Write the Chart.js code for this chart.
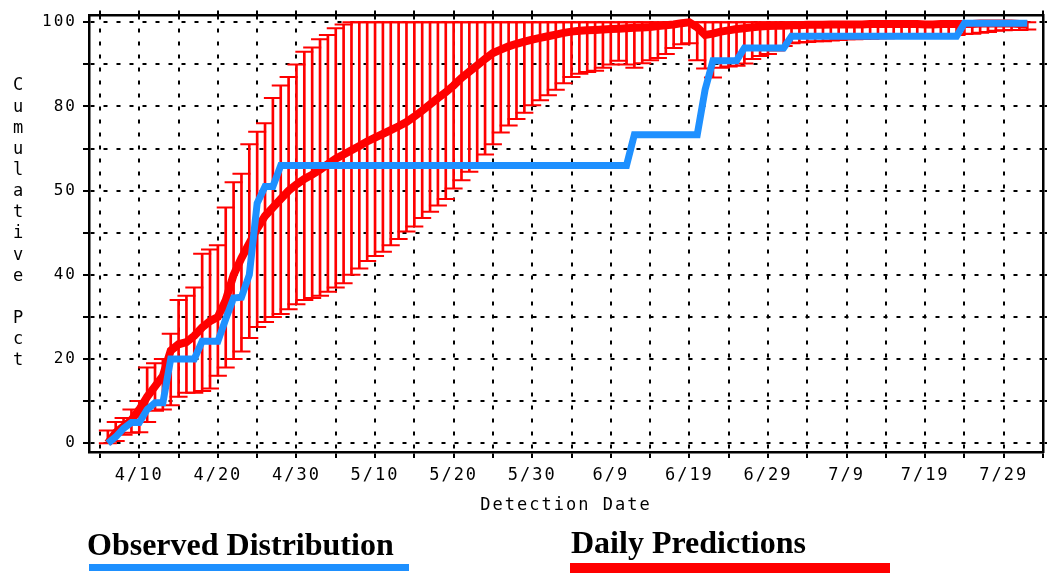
<!DOCTYPE html>
<html>
<head>
<meta charset="utf-8">
<script src="https://cdn.jsdelivr.net/npm/chart.js@4.4.1/dist/chart.umd.min.js"></script>
<style>
  html, body { margin: 0; padding: 0; background: #fff; }
  #wrap { position: relative; width: 1054px; height: 577px; overflow: hidden; }
  #c { position: absolute; left: 0; top: 0; }
  .lg { position: absolute; font-family: "Liberation Serif", "Times New Roman", serif; font-weight: bold; font-size: 32px; line-height: 32px; color: #000; white-space: nowrap; }
  .bar { position: absolute; }
</style>
</head>
<body>
<div id="wrap">
  <canvas id="c" width="1054" height="577"></canvas>
  <div class="lg" style="left:87px; top:528px;">Observed Distribution</div>
  <div class="bar" style="left:89px; top:564px; width:320px; height:7px; background:#1e90ff;"></div>
  <div class="lg" style="left:571px; top:526px;">Daily Predictions</div>
  <div class="bar" style="left:570px; top:563px; width:320px; height:10px; background:#ff0000;"></div>
</div>
<script>
// ---------------- data ----------------
const predDates = [
  '4/6','4/7','4/8','4/9','4/10','4/11','4/12','4/13','4/14','4/15','4/16','4/17','4/18','4/19','4/20',
  '4/21','4/22','4/23','4/24','4/25','4/26','4/27','4/28','4/29','4/30',
  '5/1','5/2','5/3','5/4','5/5','5/6','5/7','5/8','5/9','5/10','5/11','5/12','5/13','5/14','5/15','5/16',
  '5/17','5/18','5/19','5/20','5/21','5/22','5/23','5/24','5/25','5/26','5/27','5/28','5/29','5/30','5/31',
  '6/1','6/2','6/3','6/4','6/5','6/6','6/7','6/8','6/9','6/10','6/11','6/12','6/13','6/14','6/15',
  '6/16','6/17','6/18','6/19','6/20','6/21','6/22','6/23','6/24','6/25','6/26','6/27','6/28','6/29','6/30',
  '7/1','7/2','7/3','7/4','7/5','7/6','7/7','7/8','7/9','7/10','7/11','7/12','7/13','7/14','7/15','7/16',
  '7/17','7/18','7/19','7/20','7/21','7/22','7/23','7/24','7/25','7/26','7/27','7/28','7/29','7/30','7/31',
  '8/1'
];
const predMean = [
  0, 2.5, 4, 5.5, 8, 11, 13.5, 16, 22, 23.5, 24, 25.5, 27.5, 29, 30, 34, 40, 44, 47.5, 51, 54, 56, 58, 60, 61.5,
  62.8, 63.8, 65, 66.3, 67.6, 68.6, 69.6, 70.6, 71.7, 72.6, 73.5, 74.4, 75.3, 76.3, 77.6, 79, 80.5, 82, 83.4, 85,
  86.8, 88.3, 89.8, 91.3, 92.7, 93.5, 94.3, 94.9, 95.4, 95.9, 96.3,
  96.7, 97.1, 97.5, 97.8, 98, 98.1, 98.2, 98.3, 98.4, 98.5, 98.6, 98.7, 98.8, 98.9, 99.1, 99.3, 99.5, 99.8, 100,
  98.8, 97, 97.3, 97.8, 98.1, 98.4, 98.6, 98.8, 99, 99.1, 99.2,
  99.2, 99.3, 99.3, 99.4, 99.4, 99.4, 99.5, 99.5, 99.5, 99.5, 99.5, 99.6, 99.6, 99.6, 99.6, 99.6, 99.6, 99.6,
  99.5, 99.5, 99.6, 99.6, 99.6, 99.6, 99.6, 99.7, 99.7, 99.7, 99.7, 99.7, 99.6,
  99.5
];
const predLow = [
  0, 0.5, 2, 2.5, 2.6, 5, 7.7, 8, 9, 11, 12, 12, 12.4, 13, 16, 18, 20, 21.8, 25, 27.6, 28.8, 30, 30.7, 31.8, 33,
  34, 34.5, 35, 36, 37, 38, 40, 41.5, 43.3, 44.5, 45.5, 47, 48.5, 50.3, 51.5, 53.5, 55, 56.5, 58, 60.5,
  62.5, 64.5, 66.5, 68.6, 71, 73.8, 75.5, 77, 78.5, 80.3, 81.5,
  82.7, 84, 85.5, 87, 87.8, 88.2, 88.5, 89.2, 90, 90.9, 90, 89.2, 90.3, 91, 91.5, 92.5, 93.9, 94.8, 95,
  91, 89, 86.9, 89.2, 89.5, 89.7, 90.2, 91.3, 92, 92.5, 93.3,
  94.4, 95, 95.2, 95.3, 95.5, 95.5, 95.7, 95.8, 96, 96, 96.1, 96.1, 96.2, 96.2, 96.3, 96.3, 96.3, 96.4,
  96.4, 96.4, 96.5, 96.5, 97, 97.2, 97.3, 97.5, 97.7, 98, 98.1, 98.2, 98.2,
  98.3
];
const predHigh = [
  3, 5, 6, 8, 10, 18, 19, 20, 26, 34, 35, 37, 45, 46, 47, 56, 62, 64, 71, 74, 76, 82, 85, 87, 90,
  93, 94, 96, 97, 98.6, 99.5, 100, 100, 100, 100, 100, 100, 100, 100, 100, 100, 100, 100, 100, 100,
  100, 100, 100, 100, 100, 100, 100, 100, 100, 100, 100,
  100, 100, 100, 100, 100, 100, 100, 100, 100, 100, 100, 100, 100, 100, 100, 100, 100, 100, 100,
  100, 100, 100, 100, 100, 100, 100, 100, 100, 100, 100,
  100, 100, 100, 100, 100, 100, 100, 100, 100, 100, 100, 100, 100, 100, 100, 100, 100, 100,
  100, 100, 100, 100, 100, 100, 100, 100, 100, 100, 100, 100, 100,
  100
];
const obsDates = ['4/6','4/7','4/8','4/9','4/10','4/11','4/12','4/13','4/14','4/17','4/18','4/20','4/21','4/22',
  '4/23','4/24','4/25','4/26','4/27','4/28','6/11','6/12','6/20','6/21','6/22','6/25','6/26','7/1','7/2',
  '7/23','7/24','8/1'];
const obsPct = [0, 1.5, 3.5, 4.9, 4.9, 8, 9.6, 9.6, 20, 20, 24.2, 24.2, 29.5, 34.5,
  34.7, 40, 57, 61, 61, 66, 66, 73.3, 73.3, 84, 90.9, 90.9, 93.9, 93.9, 96.7,
  96.7, 99.8, 99.8];

const xGridDays = [-5, 0, 5, 10, 15, 20, 25, 30, 35, 40, 45, 50, 55, 60, 65, 70, 75, 80, 85, 90, 95, 100, 105, 110, 115];
const xTickLabels = ['4/10','4/20','4/30','5/10','5/20','5/30','6/9','6/19','6/29','7/9','7/19','7/29'];
const yGridValues = [0, 10, 20, 30, 40, 50, 60, 70, 80, 90, 100];
const yLabelValues = [0, 20, 40, 60, 80, 100];
const yLabelTexts = ['0', '20', '40', '50', '80', '100'];
const yTitle = 'Cumulative Pct';
const xTitle = 'Detection Date';

// ---------------- helpers ----------------
const monthStart = {4: 0, 5: 30, 6: 61, 7: 91, 8: 122};
function dayOffset(s) { const p = s.split('/').map(Number); return monthStart[p[0]] + p[1] - 10; }

const xLabelMap = {};
xTickLabels.forEach(s => { xLabelMap[dayOffset(s)] = s; });
const yLabelMap = {};
yLabelValues.forEach((v, i) => { yLabelMap[v] = yLabelTexts[i]; });

const RED = '#ff0000';
const BLUE = '#1e90ff';
const MONO = '"DejaVu Sans Mono", "Liberation Mono", monospace';

const xTicksBuilder = scale => { scale.ticks = xGridDays.map(v => ({value: v})); };
const yTicksBuilder = scale => { scale.ticks = yGridValues.map(v => ({value: v})); };

const yTitlePlugin = {
  id: 'yTitleStack',
  beforeDraw(chart) { chart.ctx.letterSpacing = '2px'; },
  afterDraw(chart) {
    const ctx = chart.ctx;
    ctx.save();
    ctx.letterSpacing = '0px';
    ctx.font = '17px ' + MONO;
    ctx.fillStyle = '#000';
    ctx.textAlign = 'center';
    ctx.textBaseline = 'middle';
    for (let i = 0; i < yTitle.length; i++) {
      ctx.fillText(yTitle[i], 18, 86 + i * 21.15);
    }
    ctx.restore();
  }
};

const gridCommon = { color: '#000', lineWidth: 2, tickColor: '#000', tickWidth: 2, tickLength: 6, offset: false };
const borderCommon = { display: true, color: '#000', width: 2.5, dash: [4, 9] };

new Chart(document.getElementById('c'), {
  type: 'line',
  data: {
    datasets: [
      {
        type: 'line', label: 'Observed Distribution', order: 0,
        data: obsDates.map((d, i) => ({x: dayOffset(d), y: obsPct[i]})),
        borderColor: BLUE, borderWidth: 7, pointRadius: 0, tension: 0, fill: false
      },
      {
        type: 'line', label: 'Daily Predictions', order: 1,
        data: predDates.map((d, i) => ({x: dayOffset(d), y: predMean[i]})),
        borderColor: RED, borderWidth: 8, pointRadius: 0, tension: 0, fill: false
      },
      {
        type: 'scatter', label: 'high', order: 2,
        data: predDates.map((d, i) => ({x: dayOffset(d), y: predHigh[i]})),
        pointStyle: 'line', pointRadius: 9, pointBorderWidth: 2, borderColor: RED, backgroundColor: RED, showLine: false
      },
      {
        type: 'scatter', label: 'low', order: 2,
        data: predDates.map((d, i) => ({x: dayOffset(d), y: predLow[i]})),
        pointStyle: 'line', pointRadius: 9, pointBorderWidth: 2, borderColor: RED, backgroundColor: RED, showLine: false
      },
      {
        type: 'bar', label: 'range', order: 3,
        data: predDates.map((d, i) => ({x: dayOffset(d), y: [predLow[i], predHigh[i]]})),
        backgroundColor: RED, borderWidth: 0, barThickness: 2
      }
    ]
  },
  options: {
    responsive: false,
    animation: false,
    events: [],
    layout: { padding: { left: 0, right: 0, top: 0, bottom: 55 } },
    plugins: { legend: { display: false }, tooltip: { enabled: false }, title: { display: false } },
    scales: {
      x: {
        type: 'linear', position: 'bottom', min: -6.4, max: 115, offset: false,
        afterBuildTicks: xTicksBuilder,
        afterFit: s => { s.height = 70; },
        grid: Object.assign({}, gridCommon),
        border: Object.assign({}, borderCommon),
        ticks: {
          autoSkip: false, maxRotation: 0, minRotation: 0, padding: 7, color: '#000',
          font: { family: MONO, size: 17 },
          callback: v => xLabelMap[v] || ''
        },
        title: { display: true, text: xTitle, color: '#000', font: { family: MONO, size: 17 }, padding: { top: 0, bottom: 6 } }
      },
      x2: {
        type: 'linear', position: 'top', min: -6.4, max: 115, offset: false,
        afterBuildTicks: xTicksBuilder,
        afterFit: s => { s.height = 9; },
        grid: Object.assign({}, gridCommon, { drawOnChartArea: false, tickLength: 5 }),
        border: Object.assign({}, borderCommon),
        ticks: { display: false }
      },
      y: {
        type: 'linear', position: 'left', min: -2.1, max: 101.6, beginAtZero: false,
        afterBuildTicks: yTicksBuilder,
        afterFit: s => { s.width = 89; },
        grid: Object.assign({}, gridCommon),
        border: Object.assign({}, borderCommon),
        ticks: {
          padding: 6, color: '#000', font: { family: MONO, size: 16 },
          callback: v => (yLabelMap[v] !== undefined ? yLabelMap[v] : '')
        }
      },
      y2: {
        type: 'linear', position: 'right', min: -2.1, max: 101.6,
        afterBuildTicks: yTicksBuilder,
        afterFit: s => { s.width = 3; },
        grid: Object.assign({}, gridCommon, { drawOnChartArea: false, tickLength: 4 }),
        border: Object.assign({}, borderCommon),
        ticks: { display: false }
      }
    }
  },
  plugins: [yTitlePlugin]
});
</script>
</body>
</html>
